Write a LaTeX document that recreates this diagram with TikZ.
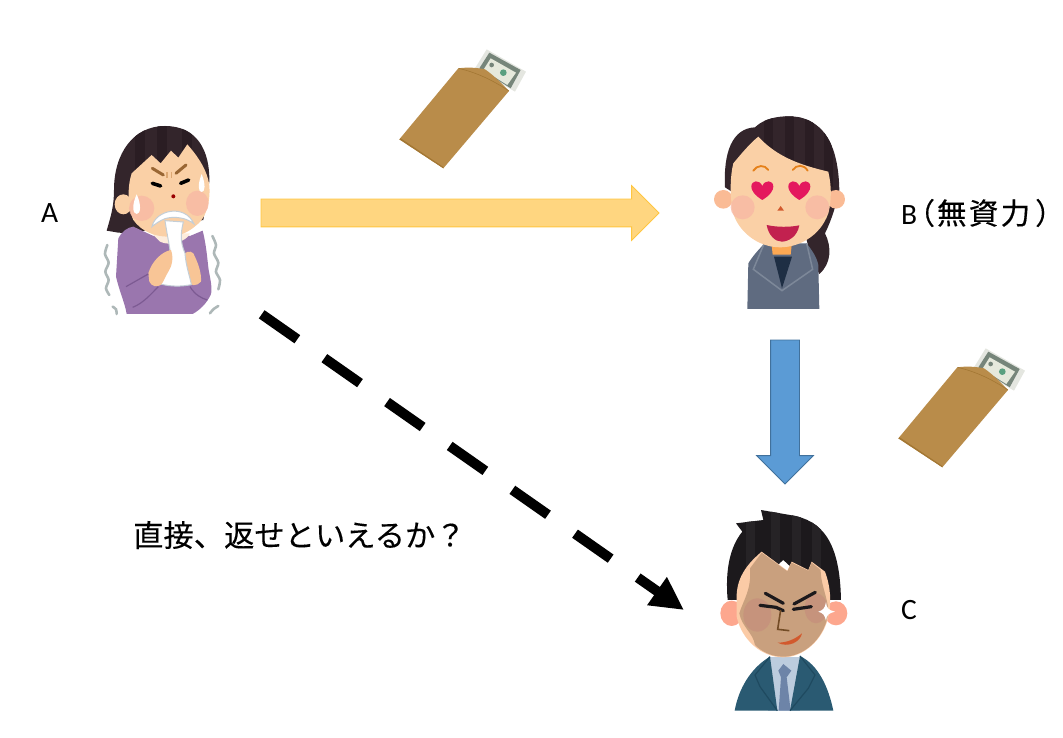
\documentclass[tikz,border=0pt]{standalone}
\usepackage{fontspec}
\setmainfont{Carlito}
\newfontfamily\cjk[FakeBold=0.15]{Noto Sans CJK JP}
\newfontfamily\cjkwide[LetterSpace=8,FakeBold=0.5]{Noto Sans CJK JP}
\newfontfamily\cjkparen[RawFeature=+palt,FakeBold=0.3]{Noto Sans CJK JP}
\usetikzlibrary{arrows.meta,shapes.arrows}

\definecolor{hairdark}{HTML}{33252B}
\definecolor{hairstripe}{HTML}{2A1D23}
\definecolor{hairblack}{HTML}{1C191C}
\definecolor{hairblackstripe}{HTML}{262326}
\definecolor{skin}{HTML}{FAD0A6}
\definecolor{handskin}{HTML}{F8C596}
\definecolor{blush}{HTML}{F8B9A4}
\definecolor{dress}{HTML}{9A76AE}
\definecolor{dressline}{HTML}{7C5A92}
\definecolor{shake}{HTML}{AEB8B8}
\definecolor{towel}{HTML}{C4CED6}
\definecolor{heartred}{HTML}{E4185E}
\definecolor{lipred}{HTML}{C2214F}
\definecolor{suitgrey}{HTML}{5F6B80}
\definecolor{suitline}{HTML}{7D8899}
\definecolor{innernavy}{HTML}{1E2E44}
\definecolor{tan}{HTML}{C9A07E}
\definecolor{tanred}{HTML}{C6917C}
\definecolor{peach}{HTML}{FBCBA6}
\definecolor{earred}{HTML}{FDA78E}
\definecolor{suitblue}{HTML}{2A5A72}
\definecolor{suitdark}{HTML}{1F4A60}
\definecolor{shirt}{HTML}{BCCCDE}
\definecolor{tieblue}{HTML}{6D84A8}
\definecolor{kraft}{HTML}{B98C4A}
\definecolor{kraftline}{HTML}{A37733}
\definecolor{billedge}{HTML}{E4E6E0}
\definecolor{billdark}{HTML}{76857A}
\definecolor{billpale}{HTML}{E6E9DC}
\definecolor{billseal}{HTML}{5AA080}
\definecolor{arrowyellow}{HTML}{FFD680}
\definecolor{arrowyellowline}{HTML}{FFC640}
\definecolor{arrowblue}{HTML}{5B9BD5}
\definecolor{arrowblueline}{HTML}{41719C}

\tikzset{
	label/.style={inner sep=0pt, anchor=west, font=\fontsize{29.5}{32}\selectfont},
	block/.style={single arrow, anchor=tail, single arrow tip angle=90, single arrow head indent=0pt, inner xsep=0pt, outer sep=0pt, line width=0.8pt},
	wobble/.style={shake, line width=2.6pt, line cap=round},
	envelope/.pic={
		\begin{scope}[x=0.3333pt,y=-0.3333pt]
			\fill[billedge] (290,28) -- (408,95) -- (375,155) -- (255,85) -- cycle;
			\fill[billdark] (298,38) -- (392,90) -- (362,145) -- (268,85) -- cycle;
			\fill[billpale] (302,55) -- (378,98) -- (352,135) -- (280,90) -- cycle;
			\fill[billseal] (340,98) circle (10);
			\fill[billdark] (305,75) circle (7);
			\fill[kraft] (28,298) -- (205,85) .. controls (240,80) and (270,85) .. (285,88) .. controls (310,105) and (335,130) .. (357,153) -- (160,385) -- cycle;
			\draw[kraftline, line width=0.6pt] (205,85) .. controls (250,95) and (300,115) .. (357,153);
			\fill[kraftline] (28,298) -- (160,385) -- (160,381) -- (32,295) -- cycle;
		\end{scope}
	},
	heart/.pic={
		\fill[heartred] (0,30) .. controls (-25,15) and (-33,0) .. (-33,-10) .. controls (-33,-30) and (-8,-32) .. (0,-12) .. controls (8,-32) and (33,-30) .. (33,-10) .. controls (33,0) and (25,15) .. (0,30);
	}
}

\begin{document}
\begin{tikzpicture}[x=1pt,y=-1pt]
	\useasboundingbox (0,0) rectangle (1063,738);

	% person A
	\begin{scope}[shift={(90,110)},x=0.3333pt,y=-0.3333pt]
		\path[fill=hairdark, path picture={\foreach \x in {150,215,290} \draw[hairstripe, line width=10pt] (\x,0) -- (\x,180);}] (50,362) .. controls (62,320) and (72,290) .. (72,240) .. controls (72,130) and (130,48) .. (225,48) .. controls (320,48) and (360,120) .. (358,215) -- (340,330) -- (120,370) -- (85,368) -- cycle;
		\fill[dress] (85,385) .. controls (95,365) and (112,352) .. (130,350) -- (190,378) -- (300,378) -- (338,362) .. controls (350,410) and (352,450) .. (356,480) .. controls (362,510) and (368,540) .. (362,555) .. controls (350,580) and (330,600) .. (308,612) -- (110,612) .. controls (105,580) and (90,550) .. (78,500) -- cycle;
		\fill[skin] (100,283) circle[x radius=26, y radius=30];
		\fill[white!60!skin] (185,370) -- (300,370) .. controls (290,395) and (240,410) .. (210,395) -- cycle;
		\fill[skin] (125,190) -- (185,135) -- (212,160) -- (243,122) -- (265,143) -- (292,103) .. controls (320,135) and (345,170) .. (355,210) .. controls (365,250) and (355,320) .. (320,345) .. controls (290,372) and (260,380) .. (235,380) .. controls (195,380) and (155,365) .. (130,330) .. controls (112,290) and (112,230) .. (125,190) -- cycle;
		\fill[blush, opacity=0.8] (155,295) circle[x radius=38, y radius=38];
		\fill[blush, opacity=0.8] (322,280) circle[x radius=34, y radius=38];
		% brows and eyes
		\draw[brown!80!black, line width=3pt, line cap=round] (187,175) -- (220,195);
		\draw[brown!80!black, line width=3pt, line cap=round] (288,165) -- (258,190);
		\draw[brown!50!skin, line width=1.4pt] (231,186) -- (231,204) (245,186) -- (245,204);
		\draw[black, line width=3.6pt, line cap=round] (187,220) -- (212,228);
		\draw[black, line width=3.6pt, line cap=round] (296,210) -- (272,220);
		\fill[red!60!black] (250,259) circle (6);
		% sweat
		\fill[white] (140,253) .. controls (125,285) and (128,312) .. (140,312) .. controls (152,312) and (155,285) .. (140,253);
		\fill[white] (335,192) .. controls (322,225) and (325,246) .. (335,246) .. controls (345,246) and (348,225) .. (335,192);
		% towel and hands
		\fill[handskin] (275,440) .. controls (285,425) and (300,420) .. (310,430) .. controls (325,460) and (335,490) .. (333,515) .. controls (320,530) and (300,530) .. (290,510) -- cycle;
		\filldraw[fill=white, draw=towel, line width=1pt] (225,332) -- (280,336) .. controls (272,370) and (270,395) .. (285,430) .. controls (288,470) and (300,500) .. (304,524) .. controls (275,530) and (240,530) .. (212,522) .. controls (225,490) and (232,450) .. (240,420) .. controls (236,395) and (230,365) .. (225,332) -- cycle;
		\filldraw[fill=white, draw=towel, line width=1pt] (186,350) .. controls (196,300) and (285,280) .. (312,342) .. controls (290,322) and (250,318) .. (225,326) .. controls (210,332) and (195,342) .. (186,350) -- cycle;
		\fill[handskin] (175,490) .. controls (185,455) and (215,425) .. (243,420) .. controls (252,445) and (245,470) .. (235,485) .. controls (225,500) and (222,515) .. (212,525) .. controls (200,532) and (185,530) .. (178,515) -- cycle;
		\draw[dressline, line width=1.2pt] (108,530) -- (175,492) (128,592) .. controls (160,580) and (185,550) .. (205,530) (300,530) .. controls (315,555) and (335,565) .. (352,570);
		% shaking lines
		\draw[wobble] plot[smooth] coordinates {(52,405) (45,432) (56,458) (46,485) (56,510) (48,535) (58,555)};
		\draw[wobble] plot[smooth] coordinates {(367,378) (378,405) (372,430) (385,458) (378,485) (390,510) (385,538)};
		\draw[wobble] plot[smooth] coordinates {(68,590) (78,598) (80,612)};
		\draw[wobble] plot[smooth] coordinates {(360,610) (370,598) (385,588)};
	\end{scope}

	% person B
	\begin{scope}[shift={(700,100)},x=0.3333pt,y=-0.3333pt]
		\path[fill=hairdark, path picture={\foreach \x in {205,270,330,385} \draw[hairstripe, line width=9pt] (\x,0) -- (\x,260);}] (75,262) .. controls (70,160) and (95,85) .. (165,82) .. controls (200,48) and (260,45) .. (300,52) .. controls (370,70) and (415,130) .. (418,270) .. controls (410,310) and (395,360) .. (375,400) .. controls (395,440) and (395,490) .. (358,522) -- (335,480) -- (320,420) -- cycle;
		\fill[skin!90!red] (70,298) circle[x radius=28, y radius=28];
		\fill[skin!90!red] (408,298) circle[x radius=27, y radius=28];
		% jacket
		\fill[suitgrey] (142,627) -- (145,490) .. controls (160,465) and (180,445) .. (192,432) -- (320,430) .. controls (335,450) and (350,470) .. (355,495) -- (358,627) -- cycle;
		\fill[orange!50!skin] (215,435) -- (275,435) -- (272,464) -- (218,464) -- cycle;
		\fill[innernavy] (222,470) -- (276,470) -- (246,565) -- cycle;
		\draw[suitline, line width=1.5pt] (192,432) -- (160,508) -- (246,572) -- (338,508) -- (320,430);
		% face
		\fill[skin] (100,190) .. controls (125,160) and (150,130) .. (175,110) .. controls (230,170) and (300,195) .. (385,215) .. controls (395,260) and (395,300) .. (385,340) .. controls (360,410) and (295,442) .. (240,442) .. controls (170,442) and (110,390) .. (97,330) .. controls (90,280) and (90,230) .. (100,190) -- cycle;
		\fill[blush, opacity=0.8] (128,322) circle[x radius=36, y radius=36];
		\fill[blush, opacity=0.8] (352,322) circle[x radius=36, y radius=36];
		\draw[brown!40!orange, line width=1.8pt, line cap=round] (160,212) .. controls (170,195) and (195,193) .. (205,210);
		\draw[brown!40!orange, line width=1.8pt, line cap=round] (278,210) .. controls (290,193) and (312,193) .. (323,212);
		\pic at (187,270) {heart};
		\pic at (298,270) {heart};
		\fill[brown!70!red] (242,318) -- (252,332) -- (232,332) -- cycle;
		\fill[lipred] (200,375) .. controls (230,382) and (270,382) .. (298,376) .. controls (292,410) and (265,425) .. (245,425) .. controls (225,425) and (205,405) .. (200,375) -- cycle;
	\end{scope}

	% person C
	\begin{scope}[shift={(700,500)},x=0.3333pt,y=-0.3333pt]
		\fill[earred] (95,340) circle[x radius=34, y radius=38];
		\fill[earred] (408,340) circle[x radius=34, y radius=36];
		\path[fill=hairblack, path picture={\foreach \x in {150,225,290,350} \draw[hairblackstripe, line width=9pt] (\x,0) -- (\x,300);}] (83,300) .. controls (75,210) and (90,140) .. (127,95) -- (108,70) -- (190,60) -- (183,30) -- (270,45) .. controls (370,60) and (420,130) .. (423,300) -- (380,300) -- (250,180) -- (110,300) -- cycle;
		% jacket
		\fill[shirt] (205,470) -- (300,470) -- (300,632) -- (205,632) -- cycle;
		\fill[tieblue] (250,492) -- (274,512) -- (260,532) -- (272,632) -- (236,632) -- (243,532) -- (235,512) -- cycle;
		\fill[suitblue] (104,632) .. controls (115,570) and (150,505) .. (210,470) -- (232,632) -- cycle;
		\fill[suitblue] (300,468) .. controls (355,495) and (385,560) .. (400,632) -- (270,632) -- cycle;
		\draw[suitdark, line width=1.2pt] (210,470) -- (165,525) -- (180,560) -- (232,632) (300,468) -- (345,525) -- (325,565) -- (270,632);
		% face
		\fill[peach] (110,300) .. controls (108,250) and (125,205) .. (185,155) -- (262,212) -- (275,185) -- (325,210) -- (335,185) -- (375,215) .. controls (392,260) and (395,310) .. (385,350) .. controls (370,420) and (310,472) .. (250,472) .. controls (185,472) and (125,420) .. (110,350) -- cycle;
		\fill[tan] (150,205) -- (185,158) -- (262,214) -- (275,188) -- (325,212) -- (335,188) -- (362,210) .. controls (362,260) and (392,310) .. (383,350) .. controls (368,420) and (310,470) .. (250,470) .. controls (215,470) and (185,455) .. (165,435) .. controls (160,400) and (125,380) .. (118,340) .. controls (130,300) and (155,270) .. (150,205) -- cycle;
		\fill[tanred, opacity=0.85] (172,345) circle[x radius=42, y radius=50];
		\fill[tanred, opacity=0.85] (348,325) circle[x radius=34, y radius=45];
		\draw[hairblack, line width=3.2pt, line cap=round] (196,280) -- (250,310);
		\draw[hairblack, line width=3.2pt, line cap=round] (180,316) -- (228,322) (228,322) -- (250,332);
		\draw[hairblack, line width=3.2pt, line cap=round] (346,277) -- (282,312);
		\draw[hairblack, line width=3.2pt, line cap=round] (334,320) -- (280,328);
		\draw[brown!60!black, line width=1.6pt] (242,330) -- (233,388) -- (268,392);
		\fill[brown!70!red] (233,428) .. controls (260,428) and (285,418) .. (306,400) .. controls (302,425) and (265,445) .. (233,428) -- cycle;
		\fill[white] (378,306) .. controls (380,325) and (385,330) .. (405,335) .. controls (385,340) and (380,345) .. (378,362) .. controls (374,345) and (370,340) .. (355,335) .. controls (370,330) and (375,325) .. (378,306) -- cycle;
	\end{scope}

	% envelopes
	\pic at (390,40) {envelope};
	\pic at (889,339) {envelope};

	% arrows
	\node[block, draw=arrowyellowline, fill=arrowyellow, inner ysep=13.5pt, minimum height=398pt, minimum width=54pt, single arrow head extend=13.5pt] (giveAB) at (261,213) {};
	\node[block, draw=arrowblueline, fill=arrowblue, rotate=-90, inner ysep=14pt, minimum height=144pt, minimum width=56pt, single arrow head extend=14pt] (giveBC) at (785,340) {};

	\coordinate (claimstart) at (261.7,314.3);
	\coordinate (claimend) at (684,610);
	\draw[line width=10pt, dash pattern=on 43.5pt off 33pt, -{Triangle[length=33pt,width=32pt]}] (claimstart) -- (claimend);

	% labels
	\node[label] (nameA) at (41,213) {A};
	\node[label] (nameB) at (901,213) {B\hspace{2pt}{\cjkparen （}\hspace{3pt}{\cjkwide 無資力}\hspace{6pt}{\cjkparen ）}};
	\node[label] (nameC) at (901,610) {C};
	\node[label, font=\fontsize{30.3}{32}\selectfont] (question) at (133,535) {\cjk 直接、返せといえるか？};
\end{tikzpicture}
\end{document}
